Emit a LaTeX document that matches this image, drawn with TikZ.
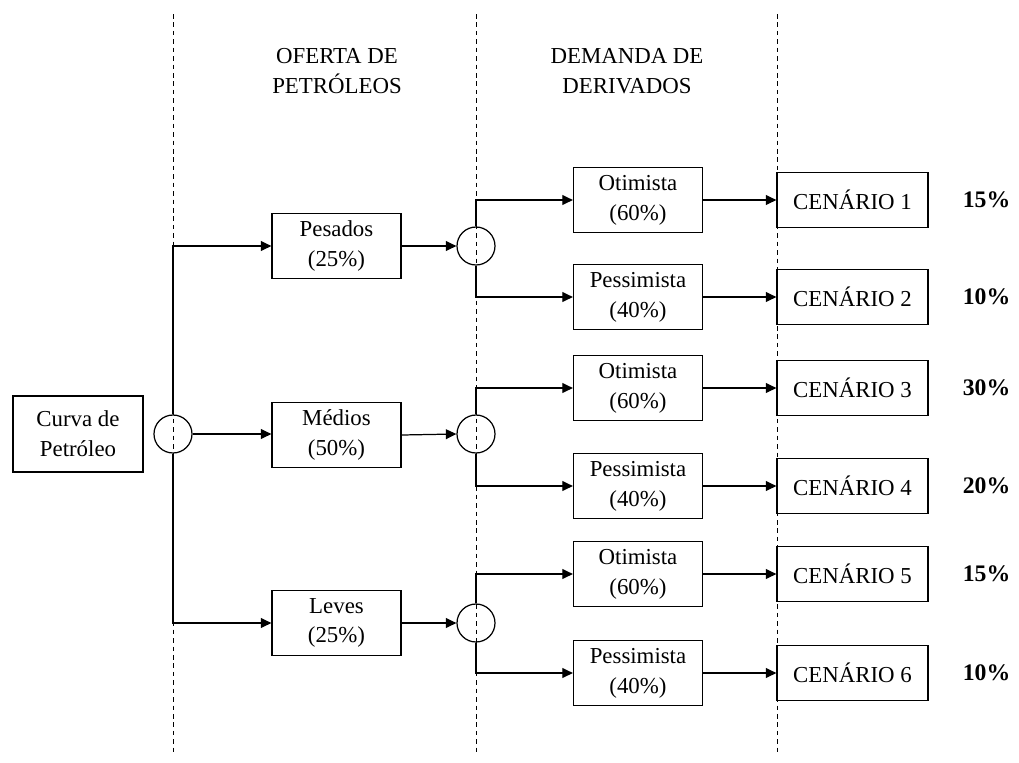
\documentclass[tikz,border=0pt]{standalone}
\usepackage{fontspec}
\setmainfont{Liberation Serif}
\usetikzlibrary{arrows.meta,positioning}

\begin{document}
\begin{tikzpicture}[x=0.02cm,y=-0.02cm,
    font=\fontsize{13}{17}\selectfont,
    caixa/.style={draw,line width=0.7pt,minimum width=2.58cm,minimum height=1.3cm,align=center,inner sep=0pt},
    cenario/.style={draw,line width=0.7pt,minimum width=3.02cm,minimum height=1.1cm,inner sep=0pt},
    no/.style={draw,circle,line width=0.7pt,minimum size=0.76cm,inner sep=0pt},
    seta/.style={line width=0.7pt,-{Triangle[length=6pt,width=5.6pt]}},
    divisa/.style={line width=0.5pt,dash pattern=on 2.6pt off 2.2pt},
    pct/.style={font=\fontsize{13.5}{17}\selectfont\bfseries}]
    \useasboundingbox (0,0) rectangle (1019,762);
    % linhas divisorias
    \draw[divisa] (173,14) -- (173,755);
    \draw[divisa] (476,14) -- (476,755);
    \draw[divisa] (777,14) -- (777,755);
    % titulos
    \node[align=center] (oferta) at (337,71) {OFERTA DE\\PETRÓLEOS};
    \node[align=center] (demanda) at (627,71) {DEMANDA DE\\DERIVADOS};
    % primeiro nivel
    \node[caixa,minimum width=2.6cm,minimum height=1.52cm] (curva) at (78,434) {Curva de\\Petróleo};
    \node[no] (c0) at (173,434) {};
    \node[caixa] (pesados) at (336.5,246) {Pesados\\(25\%)};
    \node[caixa] (medios) at (336.5,435) {Médios\\(50\%)};
    \node[caixa] (leves) at (336.5,623) {Leves\\(25\%)};
    \draw[seta] (c0.north) |- (pesados.west);
    \draw[seta] (c0.east) -- (c0.east -| medios.west);
    \draw[seta] (c0.south) |- (leves.west);
    % segundo nivel
    \node[no] (c1) at (476,246) {};
    \node[no] (c2) at (476,434) {};
    \node[no] (c3) at (476,623) {};
    \draw[seta] (pesados.east) -- (c1.west);
    \draw[seta] (medios.east) -- (c2.west);
    \draw[seta] (leves.east) -- (c3.west);
    \node[caixa] (ot1) at (638,200) {Otimista\\(60\%)};
    \node[caixa] (pe2) at (638,297) {Pessimista\\(40\%)};
    \node[caixa] (ot3) at (638,388) {Otimista\\(60\%)};
    \node[caixa] (pe4) at (638,486) {Pessimista\\(40\%)};
    \node[caixa] (ot5) at (638,574) {Otimista\\(60\%)};
    \node[caixa] (pe6) at (638,673) {Pessimista\\(40\%)};
    \draw[seta] (c1.north) |- (ot1.west);
    \draw[seta] (c1.south) |- (pe2.west);
    \draw[seta] (c2.north) |- (ot3.west);
    \draw[seta] (c2.south) |- (pe4.west);
    \draw[seta] (c3.north) |- (ot5.west);
    \draw[seta] (c3.south) |- (pe6.west);
    % cenarios
    \node[cenario] (cen1) at (852.5,200) {CENÁRIO 1};
    \node[cenario] (cen2) at (852.5,297) {CENÁRIO 2};
    \node[cenario] (cen3) at (852.5,388) {CENÁRIO 3};
    \node[cenario] (cen4) at (852.5,486) {CENÁRIO 4};
    \node[cenario] (cen5) at (852.5,574) {CENÁRIO 5};
    \node[cenario] (cen6) at (852.5,673) {CENÁRIO 6};
    \draw[seta] (ot1.east) -- (cen1.west);
    \draw[seta] (pe2.east) -- (cen2.west);
    \draw[seta] (ot3.east) -- (cen3.west);
    \draw[seta] (pe4.east) -- (cen4.west);
    \draw[seta] (ot5.east) -- (cen5.west);
    \draw[seta] (pe6.east) -- (cen6.west);
    \node[pct,right=0.56cm of cen1] (p1) {15\%};
    \node[pct,right=0.56cm of cen2] (p2) {10\%};
    \node[pct,right=0.56cm of cen3] (p3) {30\%};
    \node[pct,right=0.56cm of cen4] (p4) {20\%};
    \node[pct,right=0.56cm of cen5] (p5) {15\%};
    \node[pct,right=0.56cm of cen6] (p6) {10\%};
\end{tikzpicture}
\end{document}
